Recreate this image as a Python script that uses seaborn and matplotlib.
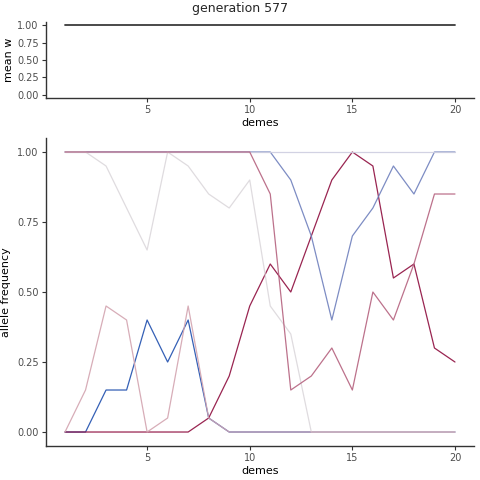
import matplotlib
matplotlib.use("Agg")
import matplotlib.pyplot as plt
import seaborn as sns
import pandas as pd
import numpy as np

demes = list(range(1, 21))
mean_w = [1.0] * 20

locus_grey = [1, 1, .95, .8, .65, 1, .95, .85, .8, .9, .45, .35, 0, 0, 0, 0, 0, 0, 0, 0]
locus_lavender = [1] * 20
locus_midblue = [1, 1, 1, 1, 1, 1, 1, 1, 1, 1, 1, .9, .7, .4, .7, .8, .95, .85, 1, 1]
locus_rose = [1, 1, 1, 1, 1, 1, 1, 1, 1, 1, .85, .15, .2, .3, .15, .5, .4, .6, .85, .85]
locus_pink = [0, .15, .45, .4, 0, .05, .45, .05, 0, 0, 0, 0, 0, 0, 0, 0, 0, 0, 0, 0]
locus_darkblue = [0, 0, .15, .15, .4, .25, .4, .05, 0, 0, 0, 0, 0, 0, 0, 0, 0, 0, 0, 0]
locus_crimson = [0, 0, 0, 0, 0, 0, 0, .05, .2, .45, .6, .5, .7, .9, 1, .95, .55, .6, .3, .25]

loci = {
    "darkblue": locus_darkblue,
    "crimson": locus_crimson,
    "midblue": locus_midblue,
    "lavender": locus_lavender,
    "rose": locus_rose,
    "pink": locus_pink,
    "grey": locus_grey,
}
palette = {
    "darkblue": "#1f4fae",
    "crimson": "#8e0d3e",
    "midblue": "#6f80bd",
    "lavender": "#cdcee0",
    "rose": "#b5627f",
    "pink": "#d3a4b0",
    "grey": "#dcd8dc",
}
order = ["darkblue", "crimson", "midblue", "lavender", "grey", "pink", "rose"]

rows = []
for name, vals in loci.items():
    for d, v in zip(demes, vals):
        rows.append({"demes": d, "freq": v, "locus": name})
df = pd.DataFrame(rows)
dfw = pd.DataFrame({"demes": demes, "mean_w": mean_w})

sns.set_theme(style="white")
plt.rcParams['font.family'] = ['DejaVu Sans']

fig = plt.figure(figsize=(4.8, 4.8), dpi=100)
ax1 = fig.add_axes([0.0948, 0.795, 0.8937, 0.16])
ax2 = fig.add_axes([0.0948, 0.0708, 0.8937, 0.6417])

sns.lineplot(data=dfw, x="demes", y="mean_w", ax=ax1, color="#3a3a3a", lw=1.3)

for name in order:
    sub = df[df.locus == name]
    sns.lineplot(data=sub, x="demes", y="freq", ax=ax2, color=palette[name],
                 lw=0.9, alpha=0.9, legend=False)

for ax in (ax1, ax2):
    ax.set_xlim(0.05, 20.95)
    ax.set_ylim(-0.05, 1.05)
    ax.set_xticks([5, 10, 15, 20])
    ax.set_yticks([0, 0.25, 0.5, 0.75, 1.0])
    ax.set_yticklabels(["0.00", "0.25", "0.50", "0.75", "1.00"])
    for s in ("top", "right"):
        ax.spines[s].set_visible(False)
    for s in ("left", "bottom"):
        ax.spines[s].set_color("#333333")
        ax.spines[s].set_linewidth(1.0)
    ax.tick_params(axis="both", which="both", length=3, width=0.8, color="#333333",
                   labelsize=7, labelcolor="#4d4d4d", pad=2, left=True, bottom=True)
    ax.set_xlabel("demes", fontsize=8, color="black", labelpad=2)
    ax.grid(False)

ax1.set_ylabel("mean w", fontsize=8, color="black", labelpad=2)
ax2.set_ylabel("allele frequency", fontsize=8, color="black", labelpad=4)
fig.suptitle("generation 577", fontsize=9, x=0.5, y=0.995)

fig.savefig("out.png", dpi=100)
